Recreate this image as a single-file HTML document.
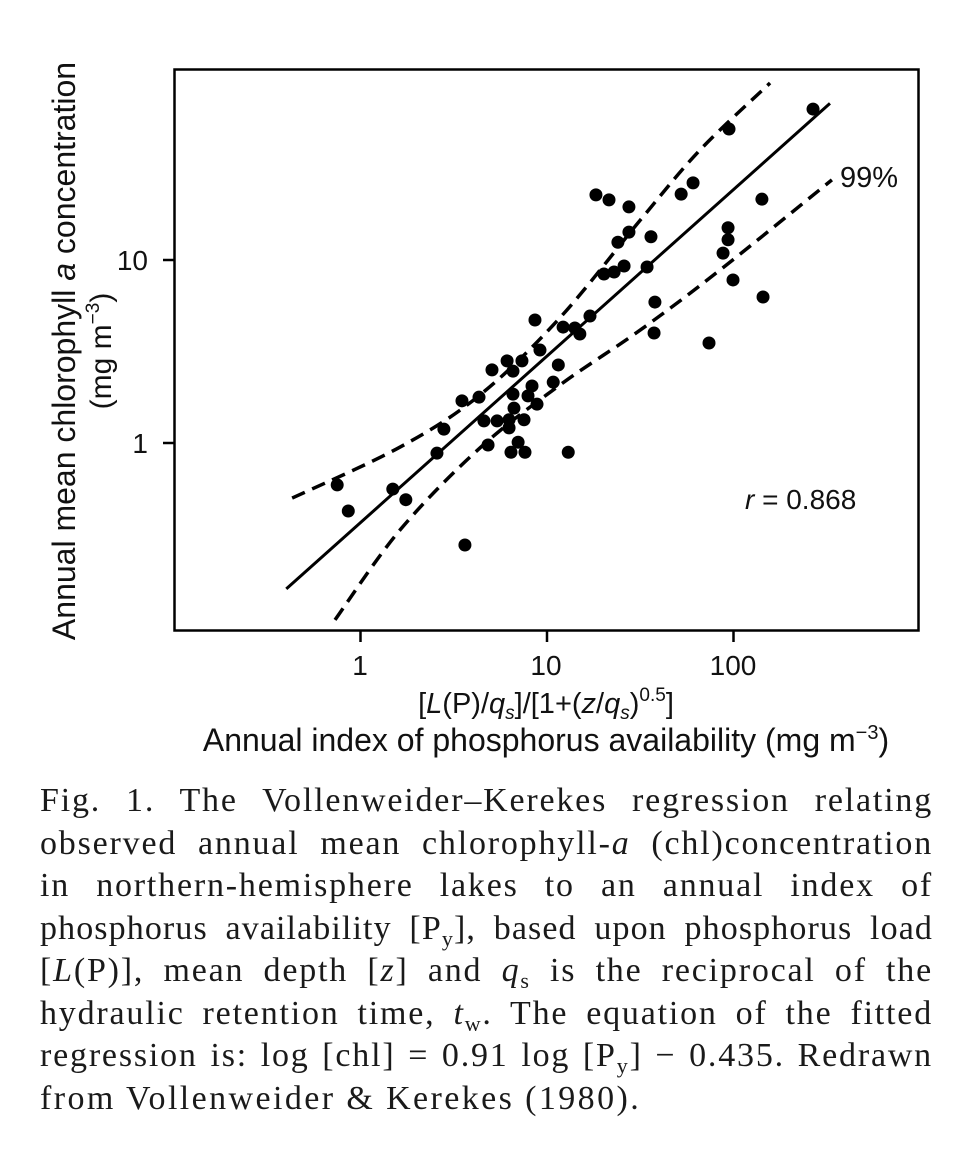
<!DOCTYPE html>
<html><head><meta charset="utf-8"><style>
body{margin:0;background:#fff;width:968px;height:1156px;overflow:hidden;position:relative}
svg text{font-family:"Liberation Sans","DejaVu Sans",sans-serif;fill:#111}
#cap{position:absolute;left:40px;top:780px;width:893px;font-family:"Liberation Serif",serif;font-size:34px;letter-spacing:1.8px;line-height:42.5px;color:#1a1a1a}
#cap div{text-align:justify;text-align-last:justify;white-space:nowrap;height:42.5px}
#cap div.last{text-align-last:left;letter-spacing:2.4px}
#cap div.tight{letter-spacing:1.1px}
.sb{font-size:22px;position:relative;top:7px}
</style></head><body>
<svg id="chart" width="968" height="780">
<rect x="174.5" y="69.5" width="744" height="561" fill="none" stroke="#000" stroke-width="2.5"/>
<g id="marks"></g>
<text x="148" y="270" font-size="28" text-anchor="end">10</text>
<text x="148" y="453" font-size="28" text-anchor="end">1</text>
<text x="360" y="675" font-size="28" text-anchor="middle">1</text>
<text x="546" y="675" font-size="28" text-anchor="middle">10</text>
<text x="733" y="675" font-size="28" text-anchor="middle">100</text>
<text x="546" y="713" font-size="29" text-anchor="middle">[<tspan font-style="italic">L</tspan>(P)/<tspan font-style="italic">q</tspan><tspan font-style="italic" font-size="19" dy="6">s</tspan><tspan dy="-6">]/[1+(</tspan><tspan font-style="italic">z</tspan>/<tspan font-style="italic">q</tspan><tspan font-style="italic" font-size="19" dy="6">s</tspan><tspan dy="-6">)</tspan><tspan font-size="19" dy="-12">0.5</tspan><tspan dy="12">]</tspan></text>
<text x="546" y="751" font-size="32" text-anchor="middle">Annual index of phosphorus availability (mg m<tspan font-size="20" dy="-12">−3</tspan><tspan dy="12">)</tspan></text>
<text transform="translate(75,351) rotate(-90)" font-size="32" text-anchor="middle">Annual mean chlorophyll <tspan font-style="italic">a</tspan> concentration</text>
<text transform="translate(111,351) rotate(-90)" font-size="30" text-anchor="middle">(mg m<tspan font-size="19" dy="-12">−3</tspan><tspan dy="12">)</tspan></text>
<text x="840" y="187" font-size="29">99%</text>
<text x="745" y="509" font-size="28"><tspan font-style="italic">r</tspan> = 0.868</text>
</svg>
<div id="cap">
<div>Fig. 1. The Vollenweider–Kerekes regression relating</div>
<div>observed annual mean chlorophyll-<i>a</i> (chl)concentration</div>
<div>in northern-hemisphere lakes to an annual index of</div>
<div class="tight">phosphorus availability [P<span class="sb">y</span>], based upon phosphorus load</div>
<div>[<i>L</i>(P)], mean depth [<i>z</i>] and <i>q</i><span class="sb">s</span> is the reciprocal of the</div>
<div>hydraulic retention time, <i>t</i><span class="sb">w</span>. The equation of the fitted</div>
<div>regression is: log [chl] = 0.91 log [P<span class="sb">y</span>] − 0.435. Redrawn</div>
<div class="last">from Vollenweider &amp; Kerekes (1980).</div>
</div>
<script>
const xTicks=[1,10,100];
const yTicks=[1,10];
const ptX=[0.75,0.86,1.49,1.75,2.57,2.80,3.50,4.32,5.07,4.59,4.83,5.40,6.11,6.26,6.26,6.41,6.57,6.57,6.65,7.0,7.34,7.53,7.62,7.91,8.31,8.62,8.84,9.17,10.8,11.5,12.2,13.0,14.1,15.0,17.0,18.3,20.2,21.5,22.9,24.0,25.9,27.5,27.5,34.4,36.1,37.9,37.5,52.4,60.7,73.9,87.9,93.5,93.5,94.6,99.4,142,144,267,3.63];
const ptY=[0.59,0.425,0.56,0.49,0.88,1.19,1.70,1.78,2.51,1.32,0.975,1.32,2.81,1.34,1.21,0.89,2.47,1.85,1.55,1.01,2.81,1.34,0.89,1.81,2.05,4.70,1.63,3.22,2.15,2.67,4.30,0.89,4.25,3.94,4.94,22.7,8.38,21.3,8.60,12.5,9.27,19.5,14.2,9.16,13.4,5.89,3.99,22.9,26.4,3.52,10.9,12.9,15.0,52.0,7.78,21.5,6.28,66.8,0.277];
const fitSlope=0.91, fitIntercept=-0.435, fitRange=[0.40,329];
const upX=[0.43,1.63,4.37,11.7,31.6,66.1,157];
const upY=[0.50,0.95,1.83,4.82,16.5,39.9,92.7];
const loX=[0.73,1.63,4.37,11.7,31.6,84.7,337];
const loY=[0.108,0.335,0.94,2.07,4.14,8.82,27.4];
const sx=v=>360.5+186.5*Math.log10(v);
const sy=v=>443-183*Math.log10(v);
const NS='http://www.w3.org/2000/svg';
const g=document.getElementById('marks');
function mk(t,a){const e=document.createElementNS(NS,t);for(const k in a)e.setAttribute(k,a[k]);g.appendChild(e);return e;}
xTicks.forEach(v=>{const e=mk('line',{x1:sx(v),x2:sx(v),y1:631,y2:642,stroke:'#000','stroke-width':2.5});

});
yTicks.forEach(v=>{const e=mk('line',{x1:163,x2:174,y1:sy(v),y2:sy(v),stroke:'#000','stroke-width':2.5});

});
function smooth(xs,ys){const p=xs.map((x,i)=>[sx(x),sy(ys[i])]);let d='M'+p[0];for(let i=0;i<p.length-1;i++){const p0=p[i-1]||p[i],p1=p[i],p2=p[i+1],p3=p[i+2]||p2;d+=' C'+[p1[0]+(p2[0]-p0[0])/6,p1[1]+(p2[1]-p0[1])/6]+' '+[p2[0]-(p3[0]-p1[0])/6,p2[1]-(p3[1]-p1[1])/6]+' '+p2;}return d;}
let e=mk('path',{d:smooth(upX,upY),fill:'none',stroke:'#000','stroke-width':3.5,'stroke-dasharray':'14 8'});


e=mk('path',{d:smooth(loX,loY),fill:'none',stroke:'#000','stroke-width':3.5,'stroke-dasharray':'14 8'});


const fy=x=>Math.pow(10,fitIntercept+fitSlope*Math.log10(x));
e=mk('line',{x1:sx(fitRange[0]),y1:sy(fy(fitRange[0])),x2:sx(fitRange[1]),y2:sy(fy(fitRange[1])),stroke:'#000','stroke-width':3});


ptX.forEach((x,i)=>{const c=mk('circle',{cx:sx(x),cy:sy(ptY[i]),r:6.5,fill:'#000'});

});
</script>
</body></html>
